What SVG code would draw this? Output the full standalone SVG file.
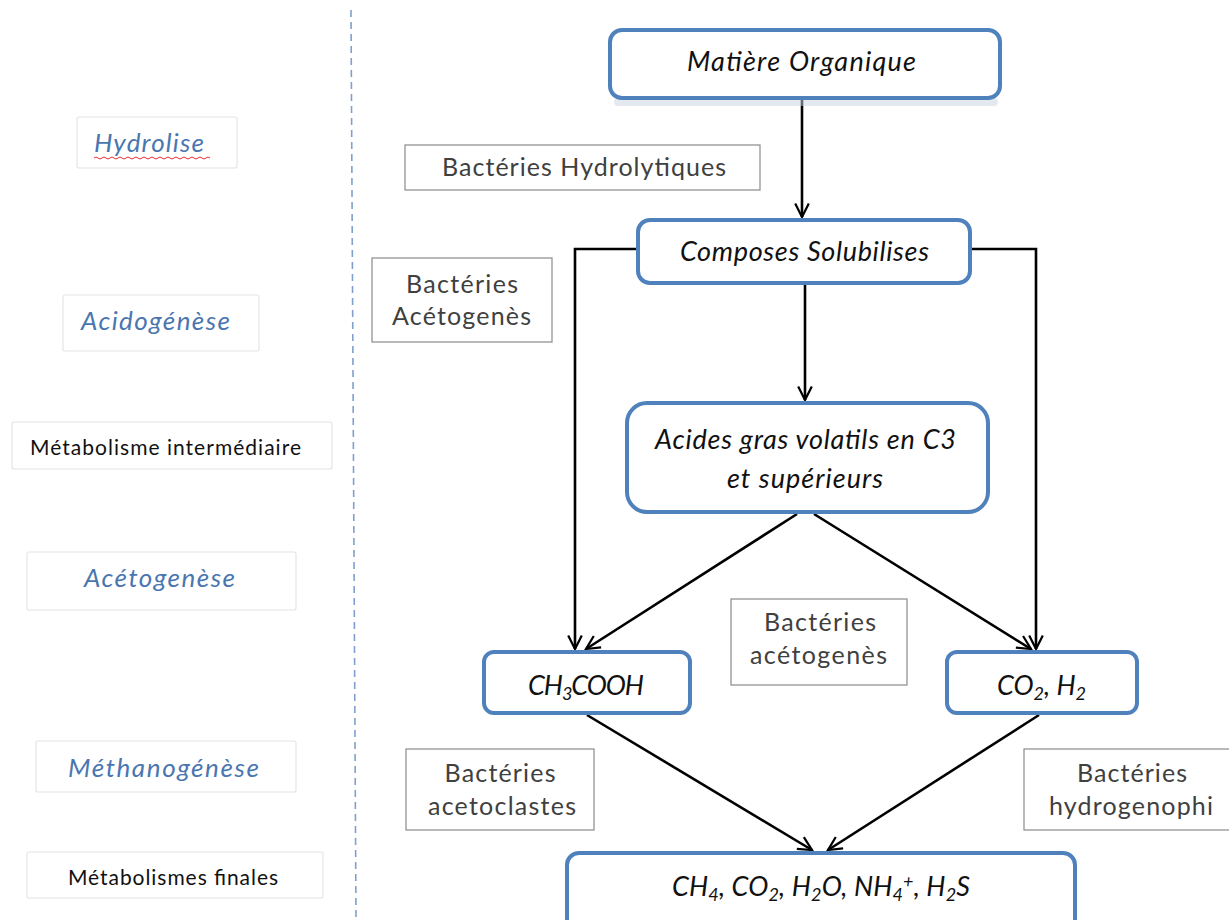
<svg xmlns="http://www.w3.org/2000/svg" width="1229" height="920" viewBox="0 0 1229 920">
<defs>
<style>
.phase{fill:#fff;stroke:#e4e4e4;stroke-width:1.2}
.pt{font-family:Lato,"Liberation Sans",sans-serif;font-style:italic;font-size:26px;fill:#4a76b0;text-anchor:middle}
.pk{font-family:Lato,"Liberation Sans",sans-serif;font-size:21px;fill:#111;text-anchor:middle}
.node{fill:#fff;stroke:#4f81bd;stroke-width:4}
.shadow{fill:#c9d3e0;opacity:0.5}
.nt{font-family:Lato,"Liberation Sans",sans-serif;font-style:italic;font-size:27px;fill:#111;text-anchor:middle}
.lab{fill:#fff;stroke:#8a8a8a;stroke-width:1.2}
.lt{font-family:Lato,"Liberation Sans",sans-serif;font-size:25px;fill:#404040;text-anchor:middle}
.con{fill:none;stroke:#000;stroke-width:2.6}
</style>
<marker id="arr" viewBox="0 0 20 20" refX="18" refY="10" markerWidth="17" markerHeight="17" markerUnits="userSpaceOnUse" orient="auto">
<path d="M2,2 L18,10 L2,18" fill="none" stroke="#000" stroke-width="2.6"/>
</marker>
</defs>
<rect width="1229" height="920" fill="#fff"/>
<line x1="351" y1="10" x2="356" y2="920" stroke="#7f9fcf" stroke-width="1.6" stroke-dasharray="7,5"/>

<g id="phase-hydrolise">
<rect class="phase" x="77" y="117" width="160" height="51" rx="2"/>
<text class="pt" x="149" y="152" textLength="110" lengthAdjust="spacing">Hydrolise</text>
<path d="M94,158 q2,-2 4,0 t4,0 t4,0 t4,0 t4,0 t4,0 t4,0 t4,0 t4,0 t4,0 t4,0 t4,0 t4,0 t4,0 t4,0 t4,0 t4,0 t4,0 t4,0 t4,0 t4,0 t4,0 t4,0 t4,0 t4,0 t4,0 t4,0 t4,0 t4,0" fill="none" stroke="#e03030" stroke-width="1"/>
</g>
<g id="phase-acidogenese">
<rect class="phase" x="63" y="295" width="196" height="56" rx="2"/>
<text class="pt" x="155.5" y="330" textLength="149" lengthAdjust="spacing">Acidogénèse</text>
</g>
<g id="phase-metab-inter">
<rect class="phase" x="12" y="422" width="320" height="47" rx="2"/>
<text class="pk" x="165.5" y="455" textLength="271" lengthAdjust="spacing">Métabolisme intermédiaire</text>
</g>
<g id="phase-acetogenese">
<rect class="phase" x="27" y="552" width="269" height="58" rx="2"/>
<text class="pt" x="159.5" y="587" textLength="151" lengthAdjust="spacing">Acétogenèse</text>
</g>
<g id="phase-methanogenese">
<rect class="phase" x="36" y="741" width="260" height="51" rx="2"/>
<text class="pt" x="163.5" y="777" textLength="191" lengthAdjust="spacing">Méthanogénèse</text>
</g>
<g id="phase-metab-finales">
<rect class="phase" x="27" y="852" width="296" height="46" rx="2"/>
<text class="pk" x="173" y="885" textLength="210" lengthAdjust="spacing">Métabolismes finales</text>
</g>

<g id="connectors">
<line class="con" x1="802" y1="100" x2="802" y2="217" marker-end="url(#arr)"/>
<polyline class="con" points="638,249 575,249 575,649" marker-end="url(#arr)"/>
<polyline class="con" points="970,249 1036,249 1036,649" marker-end="url(#arr)"/>
<line class="con" x1="805" y1="285" x2="805" y2="400" marker-end="url(#arr)"/>
<line class="con" x1="797" y1="514" x2="586" y2="649" marker-end="url(#arr)"/>
<line class="con" x1="814" y1="514" x2="1031" y2="649" marker-end="url(#arr)"/>
<line class="con" x1="587" y1="715" x2="812" y2="850" marker-end="url(#arr)"/>
<line class="con" x1="1039" y1="715" x2="828" y2="850" marker-end="url(#arr)"/>
</g>

<g id="node-matiere">
<rect class="shadow" x="614" y="98" width="384" height="8" rx="4"/>
<rect class="node" x="610" y="30" width="390" height="68" rx="12"/>
<text class="nt" x="801.5" y="71" textLength="229" lengthAdjust="spacing">Matière Organique</text>
</g>
<g id="label-hydrolytiques">
<rect class="lab" x="405" y="145" width="355" height="45"/>
<text class="lt" x="584" y="176" textLength="284" lengthAdjust="spacing">Bactéries Hydrolytiques</text>
</g>
<g id="node-composes">
<rect class="node" x="638" y="220" width="332" height="63" rx="12"/>
<text class="nt" x="804.5" y="261" textLength="249" lengthAdjust="spacing">Composes Solubilises</text>
</g>
<g id="label-acetogenes1">
<rect class="lab" x="372" y="258" width="180" height="84"/>
<text class="lt" x="462" y="293" textLength="112" lengthAdjust="spacing">Bactéries</text>
<text class="lt" x="461.5" y="325" textLength="139" lengthAdjust="spacing">Acétogenès</text>
</g>
<g id="node-acides">
<rect class="node" x="627" y="403" width="361" height="109" rx="20"/>
<text class="nt" x="805.5" y="449" textLength="301" lengthAdjust="spacing">Acides gras volatils en C3</text>
<text class="nt" x="805" y="488" textLength="156" lengthAdjust="spacing">et supérieurs</text>
</g>
<g id="label-acetogenes2">
<rect class="lab" x="731" y="599" width="176" height="86"/>
<text class="lt" x="820" y="631" textLength="112" lengthAdjust="spacing">Bactéries</text>
<text class="lt" x="818.5" y="664" textLength="137" lengthAdjust="spacing">acétogenès</text>
</g>
<g id="node-ch3cooh">
<rect class="node" x="484" y="652" width="206" height="61" rx="10"/>
<text class="nt" x="586" y="695" textLength="116" lengthAdjust="spacing">CH<tspan font-size="18" dy="5">3</tspan><tspan dy="-5">COOH</tspan></text>
</g>
<g id="node-co2h2">
<rect class="node" x="947" y="652" width="190" height="61" rx="10"/>
<text class="nt" x="1041.5" y="695" textLength="89" lengthAdjust="spacing">CO<tspan font-size="18" dy="5">2</tspan><tspan dy="-5">, H</tspan><tspan font-size="18" dy="5">2</tspan></text>
</g>
<g id="label-acetoclastes">
<rect class="lab" x="406" y="749" width="188" height="81"/>
<text class="lt" x="500" y="782" textLength="111" lengthAdjust="spacing">Bactéries</text>
<text class="lt" x="502" y="815" textLength="148" lengthAdjust="spacing">acetoclastes</text>
</g>
<g id="label-hydrogenophi">
<rect class="lab" x="1024" y="749" width="210" height="81"/>
<text class="lt" x="1132" y="782" textLength="110" lengthAdjust="spacing">Bactéries</text>
<text class="lt" x="1131" y="815" textLength="164" lengthAdjust="spacing">hydrogenophi</text>
</g>
<g id="node-final">
<rect class="node" x="567" y="853" width="508" height="80" rx="12"/>
<text class="nt" x="821" y="896" textLength="298" lengthAdjust="spacing">CH<tspan font-size="18" dy="5">4</tspan><tspan dy="-5">, CO</tspan><tspan font-size="18" dy="5">2</tspan><tspan dy="-5">, H</tspan><tspan font-size="18" dy="5">2</tspan><tspan dy="-5">O, NH</tspan><tspan font-size="18" dy="5">4</tspan><tspan font-size="18" dy="-14">+</tspan><tspan dy="9">, H</tspan><tspan font-size="18" dy="5">2</tspan><tspan dy="-5">S</tspan></text>
</g>
</svg>
